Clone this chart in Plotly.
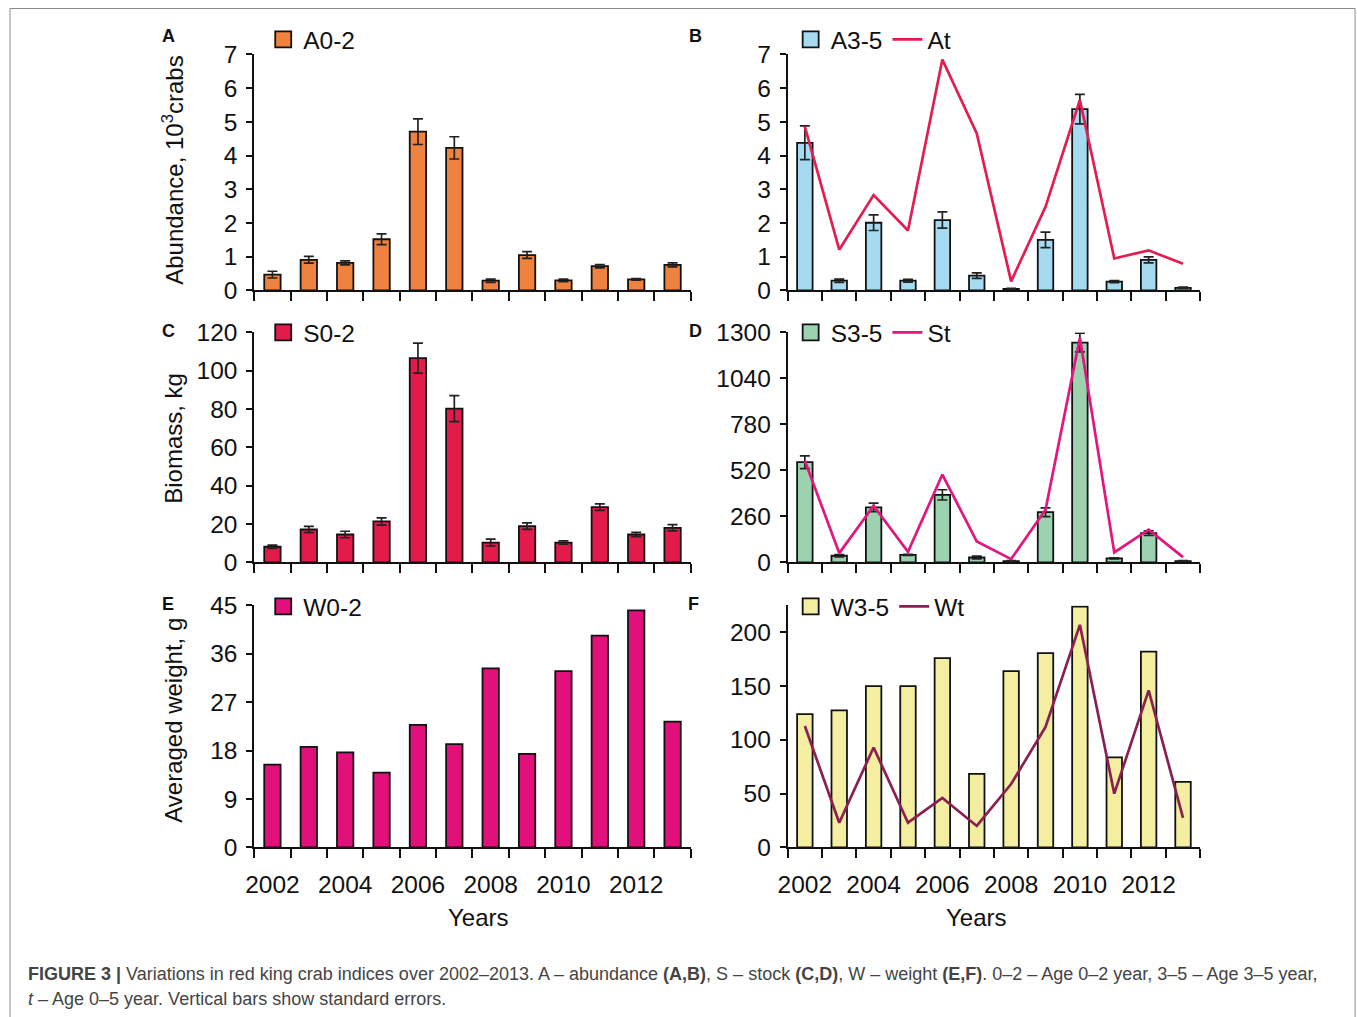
import plotly.graph_objects as go

years = [2002, 2003, 2004, 2005, 2006, 2007, 2008, 2009, 2010, 2011, 2012, 2013]
year_labels = ["2002", "2004", "2006", "2008", "2010", "2012"]
year_label_vals = [2002, 2004, 2006, 2008, 2010, 2012]

# Panel A: abundance age 0-2
a02 = [0.47, 0.91, 0.82, 1.52, 4.71, 4.23, 0.29, 1.05, 0.30, 0.72, 0.33, 0.76]
a02_err = [0.10, 0.10, 0.06, 0.16, 0.38, 0.33, 0.05, 0.10, 0.04, 0.05, 0.02, 0.06]
# Panel B: abundance age 3-5 and total
a35 = [4.38, 0.29, 2.01, 0.29, 2.09, 0.44, 0.05, 1.50, 5.38, 0.26, 0.91, 0.08]
a35_err = [0.50, 0.05, 0.23, 0.04, 0.24, 0.08, 0.01, 0.23, 0.44, 0.03, 0.09, 0.02]
at = [4.86, 1.21, 2.83, 1.78, 6.85, 4.66, 0.27, 2.48, 5.65, 0.95, 1.19, 0.79]
# Panel C: stock age 0-2
s02 = [8.2, 17.2, 14.6, 21.4, 106.6, 80.3, 10.4, 19.0, 10.4, 28.9, 14.6, 18.1]
s02_err = [0.8, 1.6, 1.7, 1.9, 7.8, 6.8, 1.8, 1.7, 0.9, 1.7, 1.1, 1.6]
# Panel D: stock age 3-5 and total
s35 = [567, 38, 311, 43, 382, 28, 8, 284, 1243, 23, 166, 8]
s35_err = [36, 7, 24, 3, 29, 8, 2, 25, 53, 3, 13, 2]
st = [575, 53, 320, 60, 497, 119, 19, 298, 1270, 57, 185, 30]
# Panel E: weight age 0-2
w02 = [15.4, 18.7, 17.7, 13.9, 22.8, 19.2, 33.3, 17.4, 32.8, 39.4, 44.1, 23.4]
# Panel F: weight age 3-5 and total
w35 = [124, 127.5, 150, 150, 176, 68.4, 164, 180.6, 224, 83.8, 182, 61]
wt = [113, 23, 93, 23, 46, 20, 59, 112, 207, 50, 146, 27.5]

FONT = "Liberation Sans, Arial, sans-serif"
W, H = 1357, 1017

# map target pixel positions to paper fractions (compensates page offset seen in the photo)
def PX(r):
    return (r - 8.5) / 0.9937 / W

def PY(r):
    return 1 - (r - 13.5) / 0.9735 / H

fig = go.Figure()

panels = [
    ("A", "x", "y", "legend", a02, a02_err, "#F0823F", "A0-2", None, None, None),
    ("B", "x2", "y2", "legend2", a35, a35_err, "#A6DAF1", "A3-5", at, "#E31C51", "At"),
    ("C", "x3", "y3", "legend3", s02, s02_err, "#E31B4A", "S0-2", None, None, None),
    ("D", "x4", "y4", "legend4", s35, s35_err, "#9DD2B1", "S3-5", st, "#E2167F", "St"),
    ("E", "x5", "y5", "legend5", w02, None, "#E1107A", "W0-2", None, None, None),
    ("F", "x6", "y6", "legend6", w35, None, "#F3EEA0", "W3-5", wt, "#8B1F52", "Wt"),
]

for key, xa, ya, lg, bars, err, bcol, bname, line, lcol, lname in panels:
    ed = None
    if err is not None:
        ed = dict(type="data", array=err, visible=True, color="#222222", thickness=1.7, width=5)
    fig.add_trace(go.Bar(x=years, y=bars, error_y=ed, width=0.45,
                         marker=dict(color=bcol, line=dict(color="#111111", width=1.8)),
                         xaxis=xa, yaxis=ya, showlegend=False, name=bname))
    fig.add_trace(go.Scatter(x=[None], y=[None], mode="markers", name=bname,
                             marker=dict(symbol="square", size=16, color=bcol,
                                         line=dict(color="#111111", width=1.8)),
                             xaxis=xa, yaxis=ya, legend=lg, showlegend=True))
    if line is not None:
        fig.add_trace(go.Scatter(x=years, y=line, mode="lines", name=lname,
                                 line=dict(color=lcol, width=2.7),
                                 xaxis=xa, yaxis=ya, legend=lg, showlegend=True))

xl, xr = [PX(253), PX(690)], [PX(787), PX(1200)]
rows = [(55, 291), (333, 563), (606, 848)]

yranges = [[0, 7], [0, 7], [0, 120], [0, 1300], [0, 45], [0, 225]]
ydticks = [1, 1, 20, 260, 9, 50]

TICKF = 24.5
layout = dict(
    width=W, height=H, margin=dict(l=0, r=0, t=0, b=0),
    paper_bgcolor="white", plot_bgcolor="white",
    font=dict(family=FONT, size=TICKF, color="#111111"),
    barmode="overlay",
)

for i in range(6):
    n = "" if i == 0 else str(i + 1)
    col = i % 2
    row = i // 2
    xd = xl if col == 0 else xr
    t, b = rows[row]
    bottom = row == 2
    layout["xaxis" + n] = dict(
        domain=xd, anchor="y" + n, range=[2001.5, 2013.5],
        showline=True, linecolor="#111111", linewidth=1.8, showgrid=False, zeroline=False,
        tickmode="array", tickvals=year_label_vals, ticktext=year_labels,
        ticks="", showticklabels=bottom, tickfont=dict(size=TICKF, family=FONT),
        minor=dict(tickmode="linear", tick0=2001.5, dtick=1, ticks="outside",
                   ticklen=9, tickwidth=1.6, tickcolor="#111111", showgrid=False),
        ticklabelstandoff=14, fixedrange=True,
    )
    layout["yaxis" + n] = dict(
        domain=[PY(b), PY(t)], anchor="x" + n, range=yranges[i],
        tickmode="linear", tick0=0, dtick=ydticks[i],
        showline=True, linecolor="#111111", linewidth=1.8, showgrid=False, zeroline=False,
        ticks="outside", ticklen=6, tickwidth=1.6, tickcolor="#111111",
        tickfont=dict(size=TICKF, family=FONT), ticklabelstandoff=4, fixedrange=True,
    )

leg_pos = [(262, 40), (790, 40), (262, 333), (790, 333), (262, 607), (790, 607)]
for i, (lx, ly) in enumerate(leg_pos):
    n = "legend" if i == 0 else "legend" + str(i + 1)
    layout[n] = dict(orientation="h", x=PX(lx), y=PY(ly), xanchor="left", yanchor="middle",
                     bgcolor="rgba(0,0,0,0)", borderwidth=0, itemsizing="trace",
                     font=dict(size=TICKF, family=FONT, color="#111111"), traceorder="normal",
                     tracegroupgap=0)

fig.update_layout(**layout)

ann = []
for letter, (px, py) in zip("ABCDEF", [(167, 37), (695, 37), (167, 332), (695, 332), (167, 605), (693, 605)]):
    ann.append(dict(text="<b>" + letter + "</b>", x=PX(px), y=PY(py), xref="paper", yref="paper",
                    showarrow=False, font=dict(size=18, family=FONT, color="#111111"),
                    xanchor="center", yanchor="middle"))
for txt, cy in [("Abundance, 10<sup>3</sup>crabs", 170), ("Biomass, kg", 439), ("Averaged weight, g", 721)]:
    ann.append(dict(text=txt, x=PX(172), y=PY(cy), xref="paper", yref="paper", textangle=-90,
                    showarrow=False, font=dict(size=24, family=FONT, color="#111111"),
                    xanchor="center", yanchor="middle"))
for cx in [478, 976]:
    ann.append(dict(text="Years", x=PX(cx), y=PY(918), xref="paper", yref="paper",
                    showarrow=False, font=dict(size=24, family=FONT, color="#111111"),
                    xanchor="center", yanchor="middle"))
cap1 = ("<b>FIGURE 3 |</b> Variations in red king crab indices over 2002–2013. A – abundance <b>(A,B)</b>, "
        "S – stock <b>(C,D)</b>, W – weight <b>(E,F)</b>. 0–2 – Age 0–2 year, 3–5 – Age 3–5 year,")
cap2 = "<i>t</i> – Age 0–5 year. Vertical bars show standard errors."
for txt, cy in [(cap1, 975), (cap2, 1000)]:
    ann.append(dict(text=txt, x=PX(25), y=PY(cy), xref="paper", yref="paper",
                    showarrow=False, font=dict(size=18, family=FONT, color="#444444"),
                    xanchor="left", yanchor="middle"))
fig.update_layout(annotations=ann)

fig.add_shape(type="rect", xref="paper", yref="paper", x0=PX(8.5), x1=PX(1355), y0=-0.05, y1=PY(9),
              line=dict(color="#8a8a8a", width=1), fillcolor="rgba(0,0,0,0)")

fig.write_html("out.html", config={"displayModeBar": False},
               post_script="document.body.style.margin='0';document.body.style.overflow='hidden';")
